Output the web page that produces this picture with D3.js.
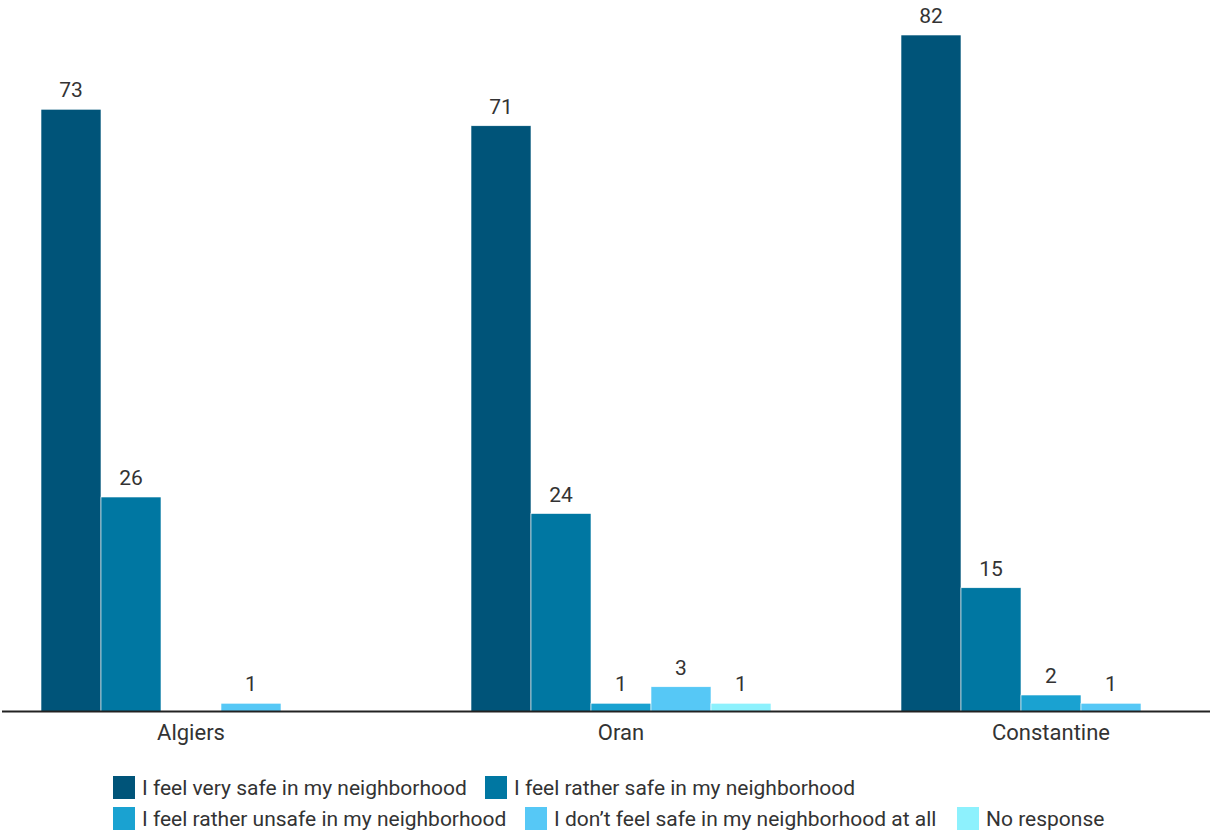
<!DOCTYPE html>
<html><head><meta charset="utf-8">
<script src="https://cdn.jsdelivr.net/npm/d3@7"></script>
<style>body{margin:0;background:#fff}svg{display:block}text{font-family:Roboto,"Noto Sans",sans-serif;fill:#333}</style>
</head><body><svg id="c" width="1210" height="833"></svg>
<script>
const categories = ["Algiers", "Oran", "Constantine"];
const seriesNames = ["I feel very safe in my neighborhood","I feel rather safe in my neighborhood","I feel rather unsafe in my neighborhood","I don\u2019t feel safe in my neighborhood at all","No response"];
const verySafe = [73, 71, 82];
const ratherSafe = [26, 24, 15];
const ratherUnsafe = [null, 1, 2];
const notSafe = [1, 3, 1];
const noResponse = [null, 1, null];
const colors = ["#005479","#0077a2","#1aa2d1","#56c8f6","#8df1fd"];
const seriesValues = [verySafe, ratherSafe, ratherUnsafe, notSafe, noResponse];

const svg = d3.select("#c");
const baseY = 711.5;
const y = d3.scaleLinear().domain([0, 82]).range([baseY, 35]);
const x0 = d3.scaleBand().domain(categories).range([-24, 1266]).paddingInner(130/430).paddingOuter(65/430);
const x1 = d3.scaleBand().domain(d3.range(seriesNames.length)).range([0, x0.bandwidth()]);

const g = svg.append("g");
categories.forEach((c, ci) => {
  seriesValues.forEach((vals, si) => {
    const v = vals[ci];
    if (v == null) return;
    const bx = x0(c) + x1(si);
    g.append("rect").attr("x", bx).attr("y", y(v)).attr("width", x1.bandwidth()).attr("height", baseY - y(v))
      .attr("fill", colors[si]).attr("stroke", "#fff").attr("stroke-width", 0.6);
    g.append("text").attr("x", bx + x1.bandwidth()/2).attr("y", y(v) - 12).attr("text-anchor", "middle")
      .attr("font-size", 21).text(v);
  });
});

const xAxis = svg.append("g").attr("transform", `translate(0,${baseY})`).call(d3.axisBottom(x0).tickSize(0).tickPadding(13));
xAxis.select(".domain").attr("d", "M2,0H1210").attr("stroke", "#222").attr("stroke-width", 2);
xAxis.selectAll("text").attr("font-size", 22).attr("font-family", "Roboto").attr("fill", "#333");

const legendItems = [
  {i:0, x:113, y:776}, {i:1, x:485, y:776},
  {i:2, x:113, y:807}, {i:3, x:525, y:807}, {i:4, x:957, y:807}
];
legendItems.forEach(d => {
  svg.append("rect").attr("x", d.x).attr("y", d.y).attr("width", 22).attr("height", 23).attr("fill", colors[d.i]);
  svg.append("text").attr("x", d.x + 29).attr("y", d.y + 19).attr("font-size", 21).text(seriesNames[d.i]);
});
</script></body></html>
